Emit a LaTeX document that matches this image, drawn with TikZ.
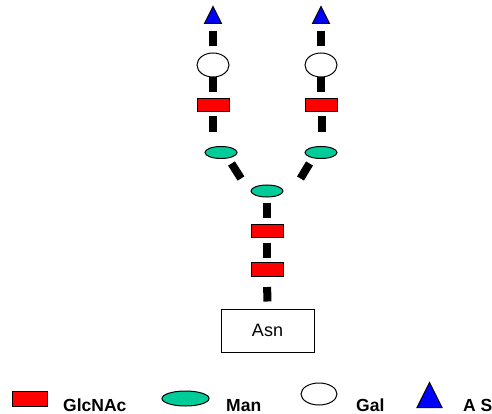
\documentclass[tikz,border=0pt]{standalone}
\usepackage{fontspec}
\setmainfont{Liberation Sans}
\usetikzlibrary{shapes.geometric,calc}
\definecolor{mangreen}{RGB}{0,204,153}
\begin{document}
\begin{tikzpicture}[x=1pt,y=-1pt,
  glcnac/.style={rectangle,draw=black,line width=1pt,fill=red,
    minimum width=32pt,minimum height=13pt,inner sep=0pt},
  man/.style={ellipse,draw=black,line width=1pt,fill=mangreen,
    minimum width=32pt,minimum height=12pt,inner sep=0pt},
  gal/.style={ellipse,draw=black,line width=1pt,fill=white,
    minimum width=32pt,minimum height=24pt,inner sep=0pt},
  sialic/.style={isosceles triangle,shape border rotate=90,
    isosceles triangle stretches,draw=black,line width=1pt,fill=blue,
    minimum width=17pt,minimum height=17pt,inner sep=0pt,anchor=lower side},
  link/.style={line width=8pt,black},
  legtext/.style={anchor=base west,inner sep=0pt,
    font=\bfseries\fontsize{17.5}{20}\selectfont}]
\useasboundingbox (0,0) rectangle (492,414);

% left antenna
\node[sialic] (lsa) at (213,24) {};
\node[gal] (lgal) at (213,65) {};
\node[glcnac] (lglc) at (213,105.5) {};
\node[man] (lman) at (221,152.5) {};
% right antenna
\node[sialic] (rsa) at (321,24) {};
\node[gal] (rgal) at (321,65) {};
\node[glcnac] (rglc) at (321.5,105.5) {};
\node[man] (rman) at (321,152.5) {};
% core
\node[man] (cman) at (267,191) {};
\node[glcnac] (cglc1) at (267,230.5) {};
\node[glcnac,minimum height=14pt] (cglc2) at (267,269.5) {};
\node[rectangle,draw=black,line width=1pt,minimum width=93pt,
  minimum height=43pt,inner sep=0pt,font=\fontsize{18}{20}\selectfont]
  (asn) at (267.5,330.5) {Asn};

% linkages, left antenna
\draw[link,shorten <=7pt,shorten >=6pt] (lsa.lower side) -- (lgal.north);
\draw[link,shorten >=6pt] (lgal.south) -- (lglc.north);
\draw[link,shorten <=4pt,shorten >=13.5pt] (lglc.south) -- (lglc.south |- lman.north);
% linkages, right antenna
\draw[link,shorten <=7pt,shorten >=6pt] (rsa.lower side) -- (rgal.north);
\draw[link,shorten >=6pt] (rgal.south) -- (rgal.south |- rglc.north);
\draw[link,shorten <=4pt,shorten >=13.5pt] (rglc.south) -- (rglc.south |- rman.north);
% branch point
\draw[link] ($(lman.center)+(10.5,11)$) -- ($(cman.center)+(-26,-12.5)$);
\draw[link] ($(rman.center)+(-11.5,11)$) -- ($(cman.center)+(33.5,-12.5)$);
% core chain
\draw[link,shorten <=5pt,shorten >=6pt] (cman.south) -- (cglc1.north);
\draw[link,shorten <=5pt,shorten >=4pt] (cglc1.south) -- (cglc2.north);
\draw[link,shorten <=10pt,shorten >=7pt] (cglc2.south) -- (asn.north);

% legend
\node[glcnac,minimum width=35pt,minimum height=15pt] (kglc) at (29.5,398.5) {};
\node[legtext] (tglc) at (63,411) {GlcNAc};
\node[man,minimum width=47pt,minimum height=15pt] (kman) at (185.5,398.5) {};
\node[legtext] (tman) at (226,411) {Man};
\node[gal,minimum width=36pt,minimum height=22pt] (kgal) at (319,394) {};
\node[legtext] (tgal) at (356,411) {Gal};
\node[sialic,minimum width=25pt,minimum height=25pt] (ksa) at (429.5,408) {};
\node[legtext] (tsa) at (463,411) {A S};
\end{tikzpicture}
\end{document}
